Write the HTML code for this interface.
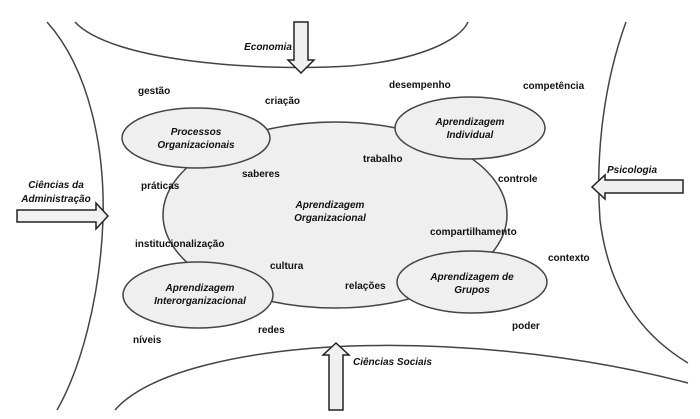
<!DOCTYPE html>
<html><head><meta charset="utf-8"><style>
html,body{margin:0;padding:0;background:#fff}
svg{display:block}
text{font-family:"Liberation Sans",sans-serif;font-size:10px;fill:#111}
.b{font-weight:bold}
.i{font-style:italic;font-weight:bold}
</style></head><body>
<svg width="700" height="419" viewBox="0 0 700 419">
<g fill="none" stroke="#444" stroke-width="1.5">
<path d="M75,22 C110,60 250,72 350,66 C420,60 460,40 468,22"/>
<path d="M47,22 C90,70 105,150 103,220 C100,300 80,370 57,410"/>
<path d="M626,22 C605,80 595,150 600,220 C610,300 650,340 688,363"/>
<path d="M115,410 C150,370 250,350 350,346 C480,342 600,360 688,383"/>
</g>
<g fill="#efefef" stroke="#444" stroke-width="1.5">
<ellipse cx="335" cy="215" rx="172" ry="93"/>
<ellipse cx="196" cy="138" rx="74" ry="30"/>
<ellipse cx="470" cy="128" rx="75" ry="31"/>
<ellipse cx="198" cy="295" rx="75" ry="33"/>
<ellipse cx="472" cy="282" rx="75" ry="31"/>
</g>
<g fill="#f0f0f0" stroke="#222" stroke-width="1.5">
<path d="M294,22 L308,22 L308,60 L314,60 L301,73 L288,60 L294,60 Z"/>
<path d="M17,210 L96,210 L96,203 L108,216 L96,229 L96,222 L17,222 Z"/>
<path d="M683,180 L605,180 L605,175 L592,187 L605,199 L605,193 L683,193 Z"/>
<path d="M329,410 L329,355 L323,355 L336,343 L349,355 L343,355 L343,410 Z"/>
</g>
<g class="i" text-anchor="middle">
<text x="268" y="50">Economia</text>
<text x="56" y="188">Ciências da</text>
<text x="56" y="202">Administração</text>
<text x="632" y="173">Psicologia</text>
<text x="196" y="135">Processos</text>
<text x="196" y="148">Organizacionais</text>
<text x="470" y="125">Aprendizagem</text>
<text x="470" y="138">Individual</text>
<text x="330" y="208">Aprendizagem</text>
<text x="330" y="221">Organizacional</text>
<text x="200" y="291">Aprendizagem</text>
<text x="200" y="304">Interorganizacional</text>
<text x="472" y="280">Aprendizagem de</text>
<text x="472" y="293">Grupos</text>
</g>
<text class="i" x="353" y="365">Ciências Sociais</text>
<g class="b">
<text x="138" y="94">gestão</text>
<text x="265" y="104">criação</text>
<text x="389" y="88">desempenho</text>
<text x="523" y="89">competência</text>
<text x="363" y="162">trabalho</text>
<text x="498" y="182">controle</text>
<text x="242" y="177">saberes</text>
<text x="141" y="189">práticas</text>
<text x="135" y="247">institucionalização</text>
<text x="270" y="269">cultura</text>
<text x="430" y="235">compartilhamento</text>
<text x="548" y="261">contexto</text>
<text x="345" y="289">relações</text>
<text x="512" y="329">poder</text>
<text x="258" y="333">redes</text>
<text x="133" y="343">níveis</text>
</g>
</svg>
</body></html>
